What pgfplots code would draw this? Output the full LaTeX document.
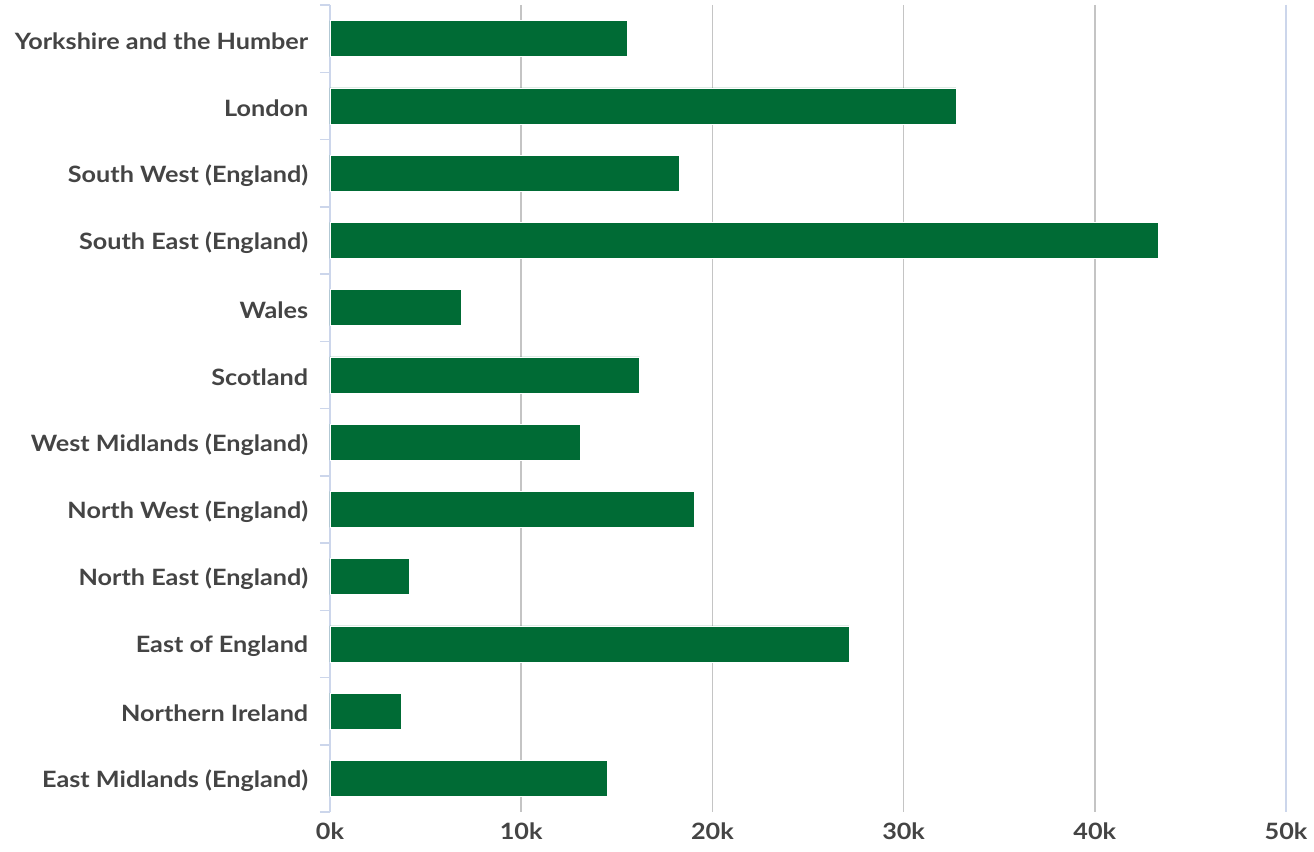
\documentclass[border=0pt]{standalone}
\usepackage{fontspec}
\setmainfont{Lato}[FakeStretch=1.12]
\usepackage{pgfplots}
\pgfplotsset{compat=1.18}
\usetikzlibrary{calc}
\definecolor{barg}{HTML}{006B35}
\definecolor{txt}{HTML}{444444}
\definecolor{axl}{HTML}{CCD6EB}
\definecolor{grd}{HTML}{C4C4C4}
\begin{document}
\begin{tikzpicture}
\begin{axis}[
  name=ax,
  scale only axis,
  width=956pt, height=807pt,
  xmin=0, xmax=50000,
  ymin=-0.5, ymax=11.5,
  y dir=reverse,
  xbar, bar width=36pt,
  scaled x ticks=false,
  separate axis lines,
  x axis line style={draw=none},
  y axis line style={axl, line width=1.5pt},
  xtick={0,10000,20000,30000,40000,50000},
  xticklabels={0k,10k,20k,30k,40k,50k},
  xmajorgrids,
  major grid style={grd, line width=1.6pt},
  major x tick style={draw=none},
  xticklabel style={font=\fontsize{22.5}{26}\selectfont\bfseries, text=txt, yshift=-3pt},
  ytick={0,...,11},
  yticklabels={Yorkshire and the Humber,London,South West (England),South East (England),Wales,Scotland,West Midlands (England),North West (England),North East (England),East of England,Northern Ireland,East Midlands (England)},
  yticklabel style={font=\fontsize{22.5}{26}\selectfont\bfseries, text=txt, xshift=-14pt, yshift=-2.5pt},
  major y tick style={draw=none},
  minor ytick={-0.5,0.5,...,11.5},
  minor tick length=10pt,
  minor y tick style={axl, line width=1.5pt},
  tick pos=left, tick align=outside,
  clip=false,
]
\addplot[fill=barg, draw=white, line width=0.6pt] coordinates {
(15530,0) (32740,1) (18250,2) (43300,3) (6850,4) (16200,5) (13070,6) (19040,7) (4130,8) (27140,9) (3710,10) (14490,11)};
\end{axis}
\pgfresetboundingbox
\path[use as bounding box] ($(ax.south west)+(-330pt,-39pt)$) rectangle ($(ax.north east)+(28pt,5pt)$);
\end{tikzpicture}
\end{document}
